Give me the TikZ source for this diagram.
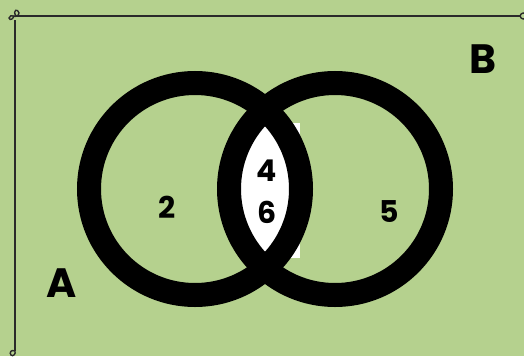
\documentclass[tikz,border=0pt]{standalone}
\usepackage{fontspec}
\setmainfont{Poppins}
\definecolor{bggreen}{RGB}{181,209,142}
\definecolor{frame}{RGB}{42,42,42}
\begin{document}
\begin{tikzpicture}[x=1pt,y=-1pt,
  lbl/.style={font=\bfseries\fontsize{30}{32}\selectfont, text=black, inner sep=0pt},
  biglbl/.style={font=\bfseries\fontsize{41}{43}\selectfont, text=black, inner sep=0pt},
  ring/.style={draw=black, line width=24pt},
  framel/.style={draw=frame, line width=1.4pt}]
\fill[bggreen] (0,0) rectangle (524,356);
\useasboundingbox (0,0) rectangle (524,356);
% frame
\draw[framel] (16,16) -- (520,16);
\draw[framel] (15,20) -- (15,351);
\draw[framel] (16,16) .. controls (12,10) and (18,8) .. (19,13) .. controls (19,16) and (15,17) .. (14,16)
  .. controls (13,19) and (10,21) .. (9,18) .. controls (9,16) and (12,15) .. (14,16);
\draw[framel] (520,16) .. controls (521,12) and (526,12) .. (526,16) .. controls (526,20) and (521,20) .. (520,16);
\draw[framel] (15,351) .. controls (11,349) and (9,353) .. (11,355) .. controls (13,357) and (16,354) .. (15,351);
% white area
\fill[white] (242,123) rectangle (300,258);
\begin{scope}
  \clip (195,189) circle[radius=95];
  \fill[white] (335,189) circle[radius=95];
\end{scope}
% circles
\draw[ring] (195,189) circle[radius=106];
\draw[ring] (335,189) circle[radius=106];
% labels
\node[lbl] (n2) at (167,207) {2};
\node[lbl] (n4) at (267,171) {4};
\node[lbl] (n6) at (267,212) {6};
\node[lbl] (n5) at (389,212) {5};
\node[biglbl] (a) at (62,283) {A};
\node[biglbl] (b) at (483,59) {B};
\end{tikzpicture}
\end{document}
